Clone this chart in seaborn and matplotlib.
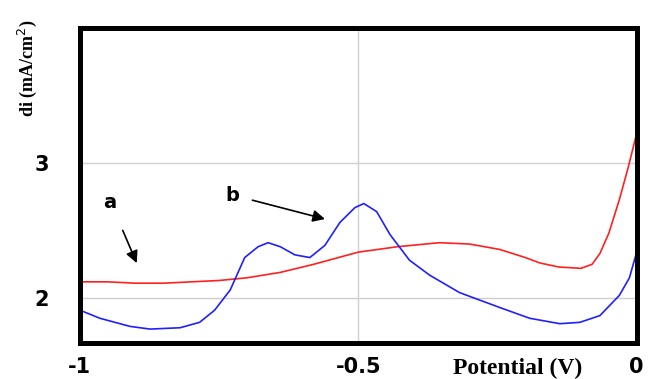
import pandas as pd
import numpy as np
import seaborn as sns
import matplotlib.pyplot as plt

# curve a (red)
pot_a = [-1.0, -0.95, -0.9, -0.85, -0.8, -0.75, -0.7, -0.64, -0.58, -0.5, -0.43, -0.354, -0.3, -0.246,
         -0.2, -0.174, -0.14, -0.1, -0.08, -0.066, -0.05, -0.031, -0.015, 0.0]
di_a = [2.12, 2.12, 2.11, 2.11, 2.12, 2.13, 2.15, 2.19, 2.25, 2.34, 2.38, 2.41, 2.40, 2.36,
        2.30, 2.26, 2.23, 2.22, 2.25, 2.33, 2.48, 2.73, 2.97, 3.22]

# curve b (blue)
pot_b = [-1.0, -0.964, -0.91, -0.874, -0.82, -0.785, -0.758, -0.73, -0.704, -0.68, -0.662, -0.64,
         -0.614, -0.587, -0.56, -0.533, -0.506, -0.49, -0.467, -0.443, -0.408, -0.372, -0.318,
         -0.246, -0.192, -0.138, -0.102, -0.066, -0.031, -0.013, 0.0]
di_b = [1.91, 1.85, 1.79, 1.77, 1.78, 1.82, 1.91, 2.06, 2.30, 2.38, 2.41, 2.38,
        2.32, 2.30, 2.39, 2.56, 2.67, 2.70, 2.64, 2.47, 2.28, 2.17, 2.04,
        1.93, 1.85, 1.81, 1.82, 1.87, 2.02, 2.15, 2.34]

x_ticks = [-1, -0.5, 0]
x_tick_labels = ["-1", "-0.5", "0"]
y_ticks = [2, 3, 4]
y_tick_labels = ["2", "3", ""]

sns.set_style("white")
fig, ax = plt.subplots(figsize=(6.55, 3.79), dpi=100)
fig.subplots_adjust(left=0.122, right=0.972, top=0.926, bottom=0.095)

df_a = pd.DataFrame({"pot": pot_a, "di": di_a})
df_b = pd.DataFrame({"pot": pot_b, "di": di_b})
sns.lineplot(data=df_a, x="pot", y="di", color="#ff2020", linewidth=1.2, ax=ax)
sns.lineplot(data=df_b, x="pot", y="di", color="#2020ff", linewidth=1.2, ax=ax)

ax.set_xlim(-1, 0)
ax.set_ylim(1.667, 4)
ax.set_xticks(x_ticks)
ax.set_xticklabels(x_tick_labels)
ax.set_yticks(y_ticks)
ax.set_yticklabels(y_tick_labels)
ax.grid(True, color="#d0d0d0", linewidth=1)
ax.set_axisbelow(True)
ax.tick_params(axis="both", length=10, color="#d0d0d0", width=1, labelsize=15,
               labelcolor="black")
ax.tick_params(axis="x", pad=0)
ax.tick_params(axis="y", pad=12)
for lab in ax.get_xticklabels() + ax.get_yticklabels():
    lab.set_fontweight("heavy")

for s in ax.spines.values():
    s.set_visible(True)
    s.set_color("black")
    s.set_linewidth(3.6)

ax.set_xlabel("")
ax.set_ylabel("")
fig.text(0.042, 0.82, "di (mA/cm$^2$)", rotation=90, ha="center", va="center",
         fontsize=13, fontweight="bold", family="Liberation Serif", color="black")
fig.text(0.79, 0.0, "Potential (V)", ha="center", va="bottom",
         fontsize=17, fontweight="bold", family="Liberation Serif", color="black")

ax.text(-0.946, 2.71, "a", ha="center", va="center", fontsize=14, fontweight="bold",
        color="black")
ax.text(-0.727, 2.76, "b", ha="center", va="center", fontsize=14, fontweight="bold",
        color="black")
ax.annotate("", xy=(-0.896, 2.24), xytext=(-0.925, 2.52),
            arrowprops=dict(arrowstyle="-|>", color="black", lw=1.2, mutation_scale=18))
ax.annotate("", xy=(-0.555, 2.58), xytext=(-0.695, 2.73),
            arrowprops=dict(arrowstyle="-|>", color="black", lw=1.2, mutation_scale=18))

fig.savefig("out.png", dpi=100)
